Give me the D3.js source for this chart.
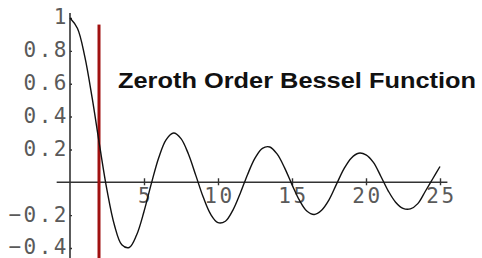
<!DOCTYPE html>
<meta charset="utf-8">
<style>
body { margin: 0; background: #fff; }
.tick text { font-family: "DejaVu Sans Mono", monospace; font-size: 21px; fill: #5a5a5a; letter-spacing: 2.5px; }
.title { font-family: "Liberation Sans", Arial, sans-serif; font-weight: bold; font-size: 22px; fill: #111; }
</style>
<svg width="482" height="258"></svg>
<script src="https://d3js.org/d3.v7.min.js"></script>
<script>

var xs = [0,0.5,1,1.5,2,2.5,3,3.5,4,4.5,5,5.5,6,6.5,7,7.5,8,8.5,9,9.5,10,10.5,11,11.5,12,12.5,
          13,13.5,14,14.5,15,15.5,16,16.5,17,17.5,18,18.5,19,19.5,20,20.5,21,21.5,22,22.5,23,23.5,24,24.5,25];
var ys = [1,0.938,0.765,0.512,0.224,-0.048,-0.260,-0.380,-0.397,-0.321,-0.178,-0.007,0.151,0.260,0.300,0.266,
          0.172,0.042,-0.090,-0.194,-0.246,-0.237,-0.171,-0.068,0.048,0.147,0.207,0.215,0.171,0.088,-0.014,
          -0.109,-0.175,-0.196,-0.170,-0.107,-0.013,0.080,0.147,0.177,0.167,0.121,0.037,-0.052,-0.121,-0.159,
          -0.162,-0.130,-0.056,0.020,0.096];
var xTicks = [5, 10, 15, 20, 25];
var yTicks = [-0.4, -0.2, 0.2, 0.4, 0.6, 0.8, 1];
var markerX = 1.96;
var title = "Zeroth Order Bessel Function";

var svg = d3.select("svg");

var x = d3.scaleLinear().domain([0, 25]).range([70, 440]),
    y = d3.scaleLinear().domain([-0.4, 1]).range([248, 18]);

// axis lines
svg.append("line")
    .attr("x1", x(-0.9)).attr("x2", x(25.5))
    .attr("y1", y(0)).attr("y2", y(0))
    .attr("stroke", "#333").attr("stroke-width", 1.6);
svg.append("line")
    .attr("x1", x(0)).attr("x2", x(0))
    .attr("y1", y(1.03)).attr("y2", 258)
    .attr("stroke", "#333").attr("stroke-width", 1.6);

var gx = svg.append("g")
    .attr("transform", "translate(0," + y(0) + ")")
    .call(d3.axisBottom(x).tickValues(xTicks).tickSize(3).tickPadding(3).tickFormat(d3.format("d")));
gx.select(".domain").remove();
gx.selectAll(".tick line").attr("y1", -4).attr("stroke", "#333").attr("stroke-width", 1.4);
gx.selectAll(".tick text").attr("dx", 1);

var gy = svg.append("g")
    .attr("transform", "translate(" + x(0) + ",0)")
    .call(d3.axisLeft(y).tickValues(yTicks).tickSize(5).tickPadding(1)
      .tickFormat(function(d) { return d === 1 ? "1" : d3.format(".1f")(d); }));
gy.select(".domain").remove();
gy.selectAll(".tick line").attr("x2", 2).attr("stroke", "#333").attr("stroke-width", 1.4);
gy.selectAll(".tick text").attr("dx", 5).attr("dy", "0.28em");

// red marker
svg.append("line")
    .attr("x1", x(markerX)).attr("x2", x(markerX))
    .attr("y1", y(0.96)).attr("y2", 258)
    .attr("stroke", "#a01010").attr("stroke-width", 3);

// curve
var line = d3.line()
    .x(function(d, i) { return x(xs[i]); })
    .y(function(d) { return y(d); })
    .curve(d3.curveCatmullRom.alpha(0.5));

svg.append("path")
    .datum(ys)
    .attr("fill", "none")
    .attr("stroke", "#111")
    .attr("stroke-width", 1.4)
    .attr("d", line);

svg.append("text")
    .attr("class", "title")
    .attr("x", 118).attr("y", 88)
    .attr("textLength", 358)
    .attr("lengthAdjust", "spacingAndGlyphs")
    .text(title);

</script>
